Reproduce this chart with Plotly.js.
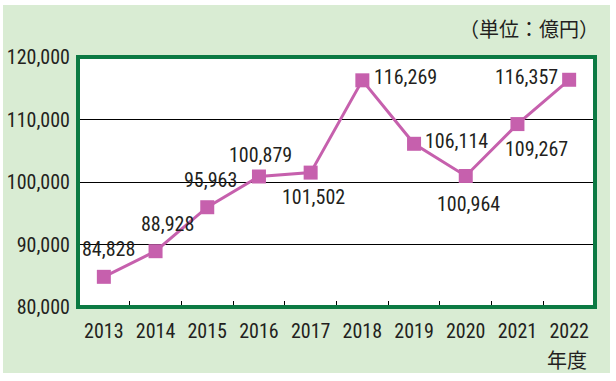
<!DOCTYPE html>
<html>
<head>
<meta charset="utf-8">
<script src="https://cdn.plot.ly/plotly-3.0.1.min.js"></script>
<style>
  html, body { margin: 0; padding: 0; background: #ffffff; }
  #chart { position: absolute; left: 3px; top: 5px; width: 607px; height: 368px; }
</style>
</head>
<body>
<div id="chart"></div>
<script>
// Data
const years = ['2013', '2014', '2015', '2016', '2017', '2018', '2019', '2020', '2021', '2022'];
const values = [84828, 88928, 95963, 100879, 101502, 116269, 106114, 100964, 109267, 116357];
const yTicks = [80000, 90000, 100000, 110000, 120000];
const unitLabel = '（単位：億円）';
const xAxisLabel = '年度';

// Label placement offsets (px) per point
const labelDX = [5, 12, 3, 2, 3, 43, 42, 3, 19, -43];
const labelDY = [28, 27, 27, 22, -24, 3, 3, -28, -25, 3];

const FONT = "Roboto Condensed, Open Sans, sans-serif";
const CJK = "Noto Sans CJK JP, Noto Sans CJK SC, sans-serif";
const TXT = '#231f20';
const LINE = '#c660ad';
const BORDER = '#0c7a43';

const trace = {
  type: 'scatter',
  mode: 'lines+markers',
  x: years,
  y: values,
  line: { color: LINE, width: 3 },
  marker: { symbol: 'square', size: 14, color: LINE },
  hoverinfo: 'skip',
  cliponaxis: false
};

const annotations = years.map((yr, i) => ({
  x: i, y: values[i], xref: 'x', yref: 'y',
  text: values[i].toLocaleString('en-US'),
  showarrow: false,
  xanchor: 'center', yanchor: 'middle',
  xshift: labelDX[i], yshift: labelDY[i],
  font: { family: FONT, size: 20, color: TXT }
}));

annotations.push({
  xref: 'paper', yref: 'paper', x: 1, y: 1,
  xanchor: 'right', yanchor: 'middle', xshift: 6, yshift: 29,
  text: unitLabel, showarrow: false,
  font: { family: CJK, size: 20, color: TXT }
});
annotations.push({
  xref: 'paper', yref: 'paper', x: 1, y: 0,
  xanchor: 'right', yanchor: 'middle', xshift: -6, yshift: -52,
  text: xAxisLabel, showarrow: false,
  font: { family: CJK, size: 20, color: TXT }
});

const layout = {
  width: 607, height: 368,
  margin: { l: 75, r: 15, t: 52, b: 66, pad: 0 },
  paper_bgcolor: '#d9ecd3',
  plot_bgcolor: '#ffffff',
  showlegend: false,
  xaxis: {
    type: 'category',
    range: [-0.5, 9.5],
    tickson: 'boundaries',
    ticks: 'inside', ticklen: 6, tickwidth: 1, tickcolor: '#000',
    showgrid: false, zeroline: false, showline: false,
    tickangle: 0,
    ticklabelstandoff: 10,
    tickfont: { family: FONT, size: 20, color: TXT },
    fixedrange: true
  },
  yaxis: {
    range: [80000, 120000],
    tickvals: yTicks,
    ticktext: yTicks.map(v => v.toLocaleString('en-US')),
    ticks: '',
    showgrid: true, gridcolor: '#000000', gridwidth: 1,
    zeroline: false, showline: false,
    ticklabelstandoff: 7,
    tickfont: { family: FONT, size: 20, color: TXT },
    fixedrange: true
  },
  shapes: [{
    type: 'rect', xref: 'paper', yref: 'paper',
    x0: 0, x1: 1, y0: 0, y1: 1,
    line: { color: BORDER, width: 4 },
    fillcolor: 'rgba(0,0,0,0)',
    layer: 'above'
  }],
  annotations: annotations
};

Plotly.newPlot('chart', [trace], layout, { displayModeBar: false, staticPlot: true });
</script>
</body>
</html>
